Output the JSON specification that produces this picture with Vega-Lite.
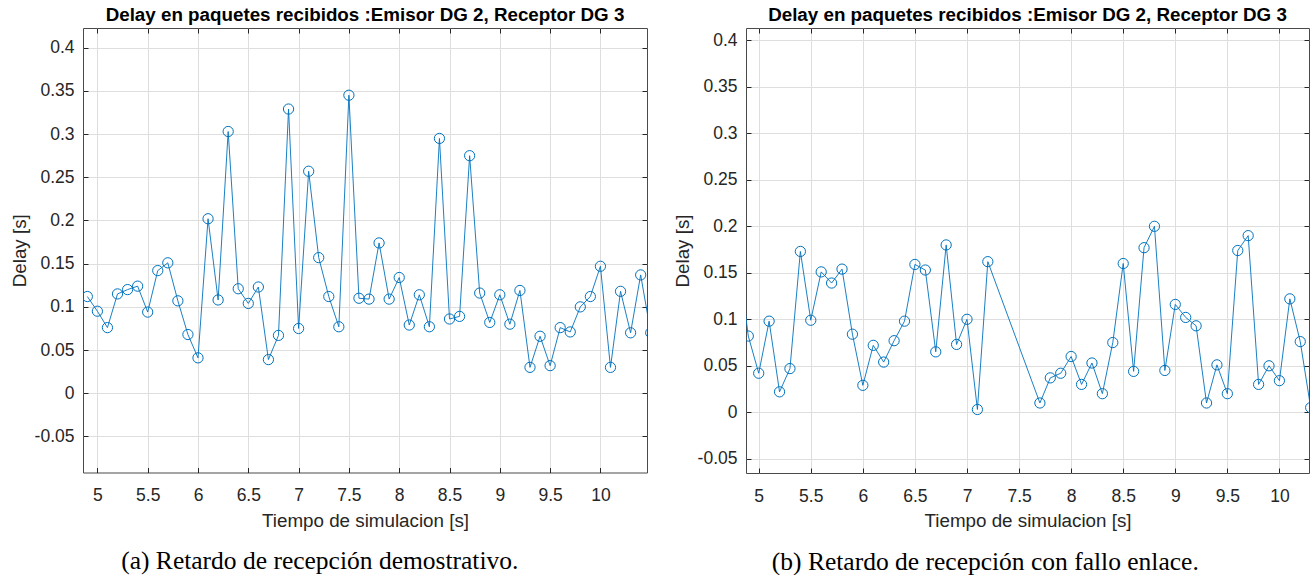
{
  "$schema": "https://vega.github.io/schema/vega-lite/v6.json",
  "padding": {"left": 9, "top": 5, "right": 0, "bottom": 0},
  "background": "white",
  "spacing": 24,
  "config": {
    "font": "Liberation Sans",
    "view": {"stroke": "#4a4a4a", "strokeWidth": 1},
    "axis": {"labelFont": "Liberation Sans", "titleFont": "Liberation Sans"}
  },
  "datasets": {
    "demo": [
      {"t": 4.9, "delay": 0.112}, {"t": 5.0, "delay": 0.095}, {"t": 5.1, "delay": 0.076}, {"t": 5.2, "delay": 0.115},
      {"t": 5.3, "delay": 0.120}, {"t": 5.4, "delay": 0.124}, {"t": 5.5, "delay": 0.094}, {"t": 5.6, "delay": 0.142},
      {"t": 5.7, "delay": 0.151}, {"t": 5.8, "delay": 0.107}, {"t": 5.9, "delay": 0.068}, {"t": 6.0, "delay": 0.041},
      {"t": 6.1, "delay": 0.202}, {"t": 6.2, "delay": 0.108}, {"t": 6.3, "delay": 0.303}, {"t": 6.4, "delay": 0.121},
      {"t": 6.5, "delay": 0.104}, {"t": 6.6, "delay": 0.123}, {"t": 6.7, "delay": 0.039}, {"t": 6.8, "delay": 0.067},
      {"t": 6.9, "delay": 0.329}, {"t": 7.0, "delay": 0.075}, {"t": 7.1, "delay": 0.257}, {"t": 7.2, "delay": 0.157},
      {"t": 7.3, "delay": 0.112}, {"t": 7.4, "delay": 0.077}, {"t": 7.5, "delay": 0.345}, {"t": 7.6, "delay": 0.110},
      {"t": 7.7, "delay": 0.109}, {"t": 7.8, "delay": 0.174}, {"t": 7.9, "delay": 0.109}, {"t": 8.0, "delay": 0.134},
      {"t": 8.1, "delay": 0.079}, {"t": 8.2, "delay": 0.114}, {"t": 8.3, "delay": 0.077}, {"t": 8.4, "delay": 0.295},
      {"t": 8.5, "delay": 0.086}, {"t": 8.6, "delay": 0.089}, {"t": 8.7, "delay": 0.275}, {"t": 8.8, "delay": 0.116},
      {"t": 8.9, "delay": 0.082}, {"t": 9.0, "delay": 0.114}, {"t": 9.1, "delay": 0.080}, {"t": 9.2, "delay": 0.119},
      {"t": 9.3, "delay": 0.030}, {"t": 9.4, "delay": 0.066}, {"t": 9.5, "delay": 0.032}, {"t": 9.6, "delay": 0.076},
      {"t": 9.7, "delay": 0.071}, {"t": 9.8, "delay": 0.100}, {"t": 9.9, "delay": 0.112}, {"t": 10.0, "delay": 0.147},
      {"t": 10.1, "delay": 0.030}, {"t": 10.2, "delay": 0.118}, {"t": 10.3, "delay": 0.070}, {"t": 10.4, "delay": 0.137},
      {"t": 10.5, "delay": 0.070}
    ],
    "fallo": [
      {"t": 4.8, "delay": 0.170}, {"t": 4.9, "delay": 0.082}, {"t": 5.0, "delay": 0.042}, {"t": 5.1, "delay": 0.098},
      {"t": 5.2, "delay": 0.022}, {"t": 5.3, "delay": 0.047}, {"t": 5.4, "delay": 0.173}, {"t": 5.5, "delay": 0.099},
      {"t": 5.6, "delay": 0.151}, {"t": 5.7, "delay": 0.139}, {"t": 5.8, "delay": 0.154}, {"t": 5.9, "delay": 0.084},
      {"t": 6.0, "delay": 0.029}, {"t": 6.1, "delay": 0.072}, {"t": 6.2, "delay": 0.054}, {"t": 6.3, "delay": 0.077},
      {"t": 6.4, "delay": 0.098}, {"t": 6.5, "delay": 0.159}, {"t": 6.6, "delay": 0.153}, {"t": 6.7, "delay": 0.065},
      {"t": 6.8, "delay": 0.180}, {"t": 6.9, "delay": 0.073}, {"t": 7.0, "delay": 0.100}, {"t": 7.1, "delay": 0.003},
      {"t": 7.2, "delay": 0.162}, {"t": 7.7, "delay": 0.010}, {"t": 7.8, "delay": 0.037}, {"t": 7.9, "delay": 0.042},
      {"t": 8.0, "delay": 0.060}, {"t": 8.1, "delay": 0.030}, {"t": 8.2, "delay": 0.053}, {"t": 8.3, "delay": 0.020},
      {"t": 8.4, "delay": 0.075}, {"t": 8.5, "delay": 0.160}, {"t": 8.6, "delay": 0.044}, {"t": 8.7, "delay": 0.177},
      {"t": 8.8, "delay": 0.200}, {"t": 8.9, "delay": 0.045}, {"t": 9.0, "delay": 0.116}, {"t": 9.1, "delay": 0.102},
      {"t": 9.2, "delay": 0.093}, {"t": 9.3, "delay": 0.010}, {"t": 9.4, "delay": 0.051}, {"t": 9.5, "delay": 0.020},
      {"t": 9.6, "delay": 0.174}, {"t": 9.7, "delay": 0.190}, {"t": 9.8, "delay": 0.030}, {"t": 9.9, "delay": 0.050},
      {"t": 10.0, "delay": 0.034}, {"t": 10.1, "delay": 0.122}, {"t": 10.2, "delay": 0.076}, {"t": 10.3, "delay": 0.005}
    ]
  },
  "hconcat": [
    {
      "title": {"text": "(a) Retardo de recepción demostrativo.", "orient": "bottom", "font": "Liberation Serif", "fontSize": 25.5, "fontWeight": "normal", "color": "#000000", "offset": 19, "anchor": "middle", "frame": "bounds", "dx": -9},
      "vconcat": [
        {
          "title": {"text": "Delay en paquetes recibidos :Emisor DG 2, Receptor DG 3", "font": "Liberation Sans", "fontSize": 18.8, "fontWeight": "bold", "color": "#000000", "offset": 3, "anchor": "middle", "frame": "group"},
          "width": 564,
          "height": 444.5,
          "data": {"name": "demo"},
          "layer": [
            {
              "mark": {"type": "line", "clip": true, "color": "#0072BD", "strokeWidth": 0.9},
              "encoding": {
                "x": {"field": "t", "type": "quantitative", "scale": {"domain": [4.857, 10.463], "nice": false, "zero": false},
                  "axis": {"orient": "bottom", "values": [5, 5.5, 6, 6.5, 7, 7.5, 8, 8.5, 9, 9.5, 10], "labelExpr": "'' + datum.value", "tickSize": -5, "tickColor": "#262626", "labelPadding": 19, "labelFlush": false, "labelOverlap": false, "labelFontSize": 17.5, "labelColor": "#262626", "grid": true, "gridColor": "#dedede", "domain": false, "title": "Tiempo de simulacion [s]", "titleFontSize": 18.8, "titleFontWeight": "normal", "titleColor": "#262626", "titlePadding": 7}},
                "y": {"field": "delay", "type": "quantitative", "scale": {"domain": [-0.0917, 0.4228], "nice": false, "zero": false},
                  "axis": {"orient": "left", "values": [-0.05, 0, 0.05, 0.1, 0.15, 0.2, 0.25, 0.3, 0.35, 0.4], "labelExpr": "'' + datum.value", "tickSize": -5, "tickColor": "#262626", "labelPadding": 14, "labelFlush": false, "labelOverlap": false, "labelFontSize": 17.5, "labelColor": "#262626", "grid": true, "gridColor": "#dedede", "domain": false, "title": "Delay [s]", "titleFontSize": 18.8, "titleFontWeight": "normal", "titleColor": "#262626", "titlePadding": 5}}
              }
            },
            {
              "mark": {"type": "point", "clip": true, "shape": "circle", "filled": false, "color": "#0072BD", "strokeWidth": 1, "size": 105, "opacity": 1},
              "encoding": {
                "x": {"field": "t", "type": "quantitative", "scale": {"domain": [4.857, 10.463], "nice": false, "zero": false},
                  "axis": {"orient": "top", "values": [5, 5.5, 6, 6.5, 7, 7.5, 8, 8.5, 9, 9.5, 10], "tickSize": -5, "tickColor": "#262626", "labels": false, "grid": false, "domain": false, "title": null}},
                "y": {"field": "delay", "type": "quantitative", "scale": {"domain": [-0.0917, 0.4228], "nice": false, "zero": false},
                  "axis": {"orient": "right", "values": [-0.05, 0, 0.05, 0.1, 0.15, 0.2, 0.25, 0.3, 0.35, 0.4], "tickSize": -5, "tickColor": "#262626", "labels": false, "grid": false, "domain": false, "title": null}}
              }
            }
          ],
          "resolve": {"axis": {"x": "independent", "y": "independent"}}
        }
      ]
    },
    {
      "title": {"text": "(b) Retardo de recepción con fallo enlace.", "orient": "bottom", "font": "Liberation Serif", "fontSize": 25.5, "fontWeight": "normal", "color": "#000000", "offset": 19, "anchor": "middle", "frame": "bounds", "dx": -6},
      "vconcat": [
        {
          "title": {"text": "Delay en paquetes recibidos :Emisor DG 2, Receptor DG 3", "font": "Liberation Sans", "fontSize": 18.8, "fontWeight": "bold", "color": "#000000", "offset": 3, "anchor": "middle", "frame": "group"},
          "width": 563,
          "height": 445,
          "data": {"name": "fallo"},
          "layer": [
            {
              "mark": {"type": "line", "clip": true, "color": "#0072BD", "strokeWidth": 0.9},
              "encoding": {
                "x": {"field": "t", "type": "quantitative", "scale": {"domain": [4.878, 10.284], "nice": false, "zero": false},
                  "axis": {"orient": "bottom", "values": [5, 5.5, 6, 6.5, 7, 7.5, 8, 8.5, 9, 9.5, 10], "labelExpr": "'' + datum.value", "tickSize": -5, "tickColor": "#262626", "labelPadding": 19, "labelFlush": false, "labelOverlap": false, "labelFontSize": 17.5, "labelColor": "#262626", "grid": true, "gridColor": "#dedede", "domain": false, "title": "Tiempo de simulacion [s]", "titleFontSize": 18.8, "titleFontWeight": "normal", "titleColor": "#262626", "titlePadding": 7}},
                "y": {"field": "delay", "type": "quantitative", "scale": {"domain": [-0.0653, 0.4133], "nice": false, "zero": false},
                  "axis": {"orient": "left", "values": [-0.05, 0, 0.05, 0.1, 0.15, 0.2, 0.25, 0.3, 0.35, 0.4], "labelExpr": "'' + datum.value", "tickSize": -5, "tickColor": "#262626", "labelPadding": 14, "labelFlush": false, "labelOverlap": false, "labelFontSize": 17.5, "labelColor": "#262626", "grid": true, "gridColor": "#dedede", "domain": false, "title": "Delay [s]", "titleFontSize": 18.8, "titleFontWeight": "normal", "titleColor": "#262626", "titlePadding": 5}}
              }
            },
            {
              "mark": {"type": "point", "clip": true, "shape": "circle", "filled": false, "color": "#0072BD", "strokeWidth": 1, "size": 105, "opacity": 1},
              "encoding": {
                "x": {"field": "t", "type": "quantitative", "scale": {"domain": [4.878, 10.284], "nice": false, "zero": false},
                  "axis": {"orient": "top", "values": [5, 5.5, 6, 6.5, 7, 7.5, 8, 8.5, 9, 9.5, 10], "tickSize": -5, "tickColor": "#262626", "labels": false, "grid": false, "domain": false, "title": null}},
                "y": {"field": "delay", "type": "quantitative", "scale": {"domain": [-0.0653, 0.4133], "nice": false, "zero": false},
                  "axis": {"orient": "right", "values": [-0.05, 0, 0.05, 0.1, 0.15, 0.2, 0.25, 0.3, 0.35, 0.4], "tickSize": -5, "tickColor": "#262626", "labels": false, "grid": false, "domain": false, "title": null}}
              }
            }
          ],
          "resolve": {"axis": {"x": "independent", "y": "independent"}}
        }
      ]
    }
  ]
}
